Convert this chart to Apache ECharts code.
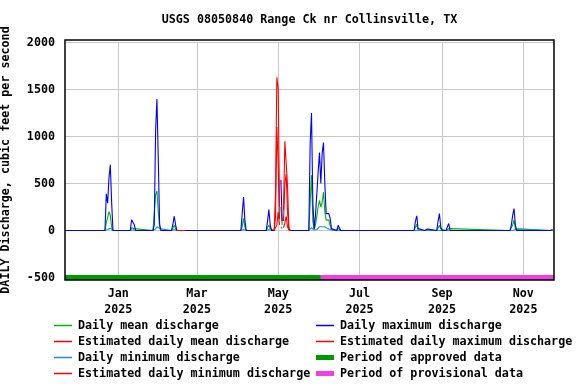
<!DOCTYPE html>
<html>
<head>
<meta charset="utf-8">
<script src="https://cdn.jsdelivr.net/npm/echarts@6/dist/echarts.min.js"></script>
<style>
html,body{margin:0;padding:0;background:#fff;}
#chart{width:576px;height:384px;}
</style>
</head>
<body>
<div id="chart"></div>
<script>
// ---------- DATA ----------
const titleText = 'USGS 08050840 Range Ck nr Collinsville, TX';
const yAxisTitle = 'DAILY Discharge, cubic feet per second';
const yTicks = [-500, 0, 500, 1000, 1500, 2000];
const xTickDates = ['2025-01-01', '2025-03-01', '2025-05-01', '2025-07-01', '2025-09-01', '2025-11-01'];
const monthNames = ['Jan','Feb','Mar','Apr','May','Jun','Jul','Aug','Sep','Oct','Nov','Dec'];
const xRange = ['2024-11-22', '2025-11-24'];

// Daily maximum discharge (approved/provisional)
const maxDates = ['2024-11-22',
 '2024-12-22','2024-12-23','2024-12-24','2024-12-25','2024-12-26','2024-12-27','2024-12-28',
 '2025-01-10','2025-01-11','2025-01-12','2025-01-13','2025-01-14',
 '2025-01-27','2025-01-28','2025-01-29','2025-01-30','2025-01-31','2025-02-01','2025-02-02',
 '2025-02-10','2025-02-11','2025-02-12','2025-02-13','2025-02-14','2025-02-17','2025-02-20',
 '2025-04-03','2025-04-04','2025-04-05','2025-04-06','2025-04-07',
 '2025-04-22','2025-04-23','2025-04-24','2025-04-25','2025-04-26','2025-04-28','2025-04-29',
 '2025-05-03','2025-05-04','2025-05-05','2025-05-10',
 '2025-05-24','2025-05-25','2025-05-26','2025-05-27','2025-05-28','2025-05-29','2025-05-30','2025-05-31',
 '2025-06-01','2025-06-02','2025-06-03','2025-06-04','2025-06-05','2025-06-06','2025-06-07','2025-06-08',
 '2025-06-09','2025-06-10','2025-06-11','2025-06-14','2025-06-15','2025-06-16','2025-06-17',
 '2025-08-11','2025-08-12','2025-08-13','2025-08-14','2025-08-15',
 '2025-08-19','2025-08-20','2025-08-21','2025-08-22',
 '2025-08-28','2025-08-29','2025-08-30','2025-08-31','2025-09-01',
 '2025-09-04','2025-09-05','2025-09-06','2025-09-07',
 '2025-10-22','2025-10-23','2025-10-24','2025-10-25','2025-10-26','2025-10-27',
 '2025-11-21','2025-11-22','2025-11-23'];
const maxValues = [0,
 0,390,290,560,700,300,0,
 0,115,117,60,0,
 0,60,1060,1400,760,70,0,
 0,70,152,60,0,null,0,
 0,180,357,110,0,
 0,100,223,60,0,0,null,
 540,100,null,0,
 0,925,1251,300,20,163,170,624,
 830,500,820,936,500,180,185,180,
 130,20,0,0,55,55,0,
 0,100,155,20,0,
 0,17,15,0,
 0,100,181,40,0,
 0,40,74,0,
 0,60,163,234,60,0,
 0,21,10];

// Estimated daily maximum discharge
const estMaxDates = ['2025-02-14','2025-02-20','2025-03-01',
 '2025-04-28','2025-04-29','2025-04-30','2025-05-01','2025-05-02','2025-05-03',
 '2025-05-05','2025-05-06','2025-05-07','2025-05-08','2025-05-09','2025-05-10'];
const estMaxValues = [0,0,null, 0,410,1630,1510,250,null, 216,950,960,480,35,0];

// Daily mean discharge
const meanDates = maxDates;
const meanValues = [0,
 0,80,60,200,160,40,0,
 0,30,40,20,0,
 0,15,380,420,200,40,0,
 0,20,55,20,0,null,0,
 0,40,130,40,0,
 0,30,60,20,0,0,null,
 250,60,null,0,
 0,300,588,100,10,60,60,250,
 320,250,300,410,200,110,100,110,
 50,10,0,0,25,20,0,
 0,20,67,5,0,
 0,8,5,0,
 0,20,56,15,0,
 0,10,20,0,
 0,15,60,110,20,0,
 0,8,3];

// Estimated daily mean discharge
const estMeanDates = estMaxDates;
const estMeanValues = [0,0,null, 0,150,1100,700,120,null, 100,500,600,200,20,0];

// Daily minimum discharge
const minDates = maxDates;
const minValues = [0,
 0,0,10,20,25,10,0,
 0,0,8,5,0,
 0,0,15,40,50,20,0,
 0,0,10,5,0,null,0,
 0,0,10,15,0,
 0,0,10,8,0,0,null,
 40,20,null,0,
 0,0,30,20,5,5,10,15,
 40,30,40,50,40,20,20,15,
 10,0,0,0,0,0,0,
 0,0,0,8,0,
 0,0,0,0,
 0,0,0,10,0,
 0,0,0,0,
 0,0,0,15,10,0,
 0,0,0];

// Estimated daily minimum discharge
const estMinDates = estMaxDates;
const estMinValues = [0,0,null, 0,5,60,200,60,null, 30,80,150,40,5,0];

// Data-approval periods (drawn at the -500 level)
const approvedPeriod = ['2024-11-22', '2025-06-02'];
const provisionalPeriod = ['2025-06-02', '2025-11-24'];
const periodLevel = -500;

const legendLeft = ['Daily mean discharge','Estimated daily mean discharge','Daily minimum discharge','Estimated daily minimum discharge'];
const legendRight = ['Daily maximum discharge','Estimated daily maximum discharge','Period of approved data','Period of provisional data'];

// ---------- BUILD ----------
function ts(s){const p=s.split('-').map(Number);return new Date(p[0],p[1]-1,p[2]).getTime();}
function pairs(d,v){return d.map((x,i)=>[ts(x), v[i]]);}

const FONT = 'DejaVu Sans Mono';
const FS = 11.7;
const C = {
  mean:'#00b400', estMean:'#ff0000', min:'#1e8cdc', estMin:'#ff0000',
  max:'#0000ff', estMax:'#ff0000', approved:'#009a00', provisional:'#f040e0'
};

function lineSeries(name, data, color, z, width){
  return {name, type:'line', data, showSymbol:false, symbol:'none', connectNulls:false,
    lineStyle:{color, width: width||1.1}, itemStyle:{color}, z, animation:false, silent:true};
}

const series = [
  lineSeries('Daily mean discharge', pairs(meanDates, meanValues), C.mean, 2),
  lineSeries('Estimated daily mean discharge', pairs(estMeanDates, estMeanValues), C.estMean, 3),
  lineSeries('Daily minimum discharge', pairs(minDates, minValues), C.min, 4),
  lineSeries('Estimated daily minimum discharge', pairs(estMinDates, estMinValues), C.estMin, 5),
  lineSeries('Daily maximum discharge', pairs(maxDates, maxValues), C.max, 6),
  lineSeries('Estimated daily maximum discharge', pairs(estMaxDates, estMaxValues), C.estMax, 7),
  lineSeries('Period of approved data', approvedPeriod.map(d=>[ts(d), periodLevel]), C.approved, 8, 5),
  lineSeries('Period of provisional data', provisionalPeriod.map(d=>[ts(d), periodLevel]), C.provisional, 8, 5)
];

// legend graphics
const legendG = [];
const rowsY = [325.5, 341.5, 357.5, 373.5];
const leftCols = [C.mean, C.estMean, C.min, C.estMin];
const rightCols = [C.max, C.estMax, C.approved, C.provisional];
const rightW = [1.5,1.5,5,5];
for (let i=0;i<4;i++){
  legendG.push({type:'line', z:120, shape:{x1:54,y1:rowsY[i],x2:72,y2:rowsY[i]}, style:{stroke:leftCols[i], lineWidth:1.5}});
  legendG.push({type:'text', z:120, x:78, y:rowsY[i], style:{text:legendLeft[i], font:`bold ${FS}px "${FONT}"`, fill:'#000', verticalAlign:'middle'}});
  legendG.push({type:'line', z:120, shape:{x1:316,y1:rowsY[i],x2:334,y2:rowsY[i]}, style:{stroke:rightCols[i], lineWidth:rightW[i]}});
  legendG.push({type:'text', z:120, x:340, y:rowsY[i], style:{text:legendRight[i], font:`bold ${FS}px "${FONT}"`, fill:'#000', verticalAlign:'middle'}});
}

const xTickTs = xTickDates.map(ts);
const chart = echarts.init(document.getElementById('chart'), null, {renderer:'canvas'});
chart.setOption({
  animation:false,
  backgroundColor:'#ffffff',
  grid:{left:65, right:22, top:42.5, bottom:106.5, containLabel:false, outerBoundsMode:'none'},
  xAxis:{
    type:'value', min:ts(xRange[0]), max:ts(xRange[1]), scale:true,
    axisLine:{show:false}, axisTick:{show:false, customValues:xTickTs},
    axisLabel:{customValues:xTickTs, margin:9, color:'#000',
      fontFamily:FONT, fontWeight:'bold', fontSize:FS, lineHeight:15.5, align:'center',
      formatter:(v)=>{const d=new Date(v);return monthNames[d.getMonth()]+'\n'+d.getFullYear();}},
    splitLine:{show:true, lineStyle:{color:'#c8c8c8', width:1}}
  },
  yAxis:{
    type:'value', min:yTicks[0], max:yTicks[yTicks.length-1], interval:500,
    name:yAxisTitle, nameLocation:'middle', nameGap:53,
    nameTextStyle:{fontFamily:FONT, fontWeight:'bold', fontSize:FS, color:'#000'},
    axisLine:{show:false}, axisTick:{show:false},
    axisLabel:{margin:10, color:'#000', fontFamily:FONT, fontWeight:'bold', fontSize:FS,
      formatter:(v)=>String(v)},
    splitLine:{show:true, lineStyle:{color:'#c8c8c8', width:1}}
  },
  series,
  graphic:[
    {type:'rect', shape:{x:65, y:40, width:489, height:240}, style:{fill:null, stroke:'#000', lineWidth:1.5}, z:100, silent:true},
    {type:'text', x:309.5, y:20, style:{text:titleText, font:`bold ${FS}px "${FONT}"`, fill:'#000', align:'center', verticalAlign:'middle'}, z:100},
    ...legendG
  ]
});
</script>
</body>
</html>
